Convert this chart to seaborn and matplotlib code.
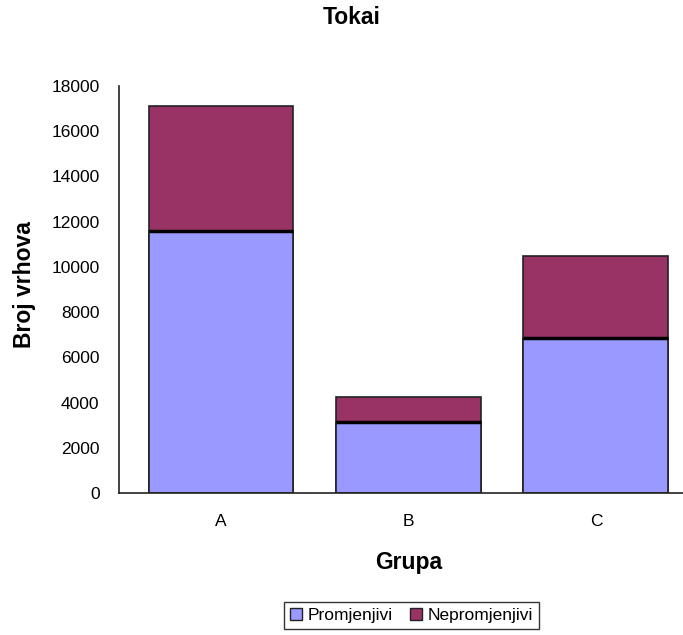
import matplotlib
matplotlib.use("Agg")
import matplotlib.pyplot as plt
import matplotlib.patches as mpatches
import seaborn as sns
import pandas as pd

sns.set_theme(style="white")
plt.rcParams["font.family"] = ["Liberation Sans", "DejaVu Sans"]
plt.rcParams["text.color"] = "black"
plt.rcParams["xtick.color"] = "black"
plt.rcParams["ytick.color"] = "black"

groups = ["A", "B", "C"]
promjenjivi = [11600, 3150, 6850]
nepromjenjivi = [5500, 1100, 3650]
series_names = ["Promjenjivi", "Nepromjenjivi"]
y_ticks = [0, 2000, 4000, 6000, 8000, 10000, 12000, 14000, 16000, 18000]

blue = "#9999FF"
maroon = "#993366"

totals = [p + n for p, n in zip(promjenjivi, nepromjenjivi)]
df = pd.DataFrame({"Grupa": groups, "Promjenjivi": promjenjivi, "Ukupno": totals})

fig = plt.figure(figsize=(6.83, 6.35), dpi=100)
ax = fig.add_axes([0.1742, 0.2236, 0.83, 0.641])

bar_w = 0.773
sns.barplot(data=df, x="Grupa", y="Ukupno", color=maroon, saturation=1,
            width=bar_w, edgecolor="#222222", linewidth=1.2, ax=ax)
sns.barplot(data=df, x="Grupa", y="Promjenjivi", color=blue, saturation=1,
            width=bar_w, edgecolor="#222222", linewidth=1.2, ax=ax)

# heavy separator line on top of the lower segment
for i, p in enumerate(promjenjivi):
    ax.hlines(p, i - bar_w / 2, i + bar_w / 2, color="black", linewidth=2.5, zorder=5)

ax.set_xlim(-0.544, 2.48)
ax.set_ylim(0, 18000)
ax.set_yticks(y_ticks)
ax.set_yticklabels([str(t) for t in y_ticks])
ax.set_xticks([-0.544, 0.5, 1.5], minor=True)
ax.tick_params(axis="x", which="major", length=0, pad=15, labelsize=12.5)
ax.tick_params(axis="x", which="minor", length=6, width=1.2, color="#222222", direction="out")
ax.tick_params(axis="y", length=6, width=1.2, color="#222222", direction="out",
               labelsize=12.5, pad=8)
ax.set_xlabel("")
ax.set_ylabel("")

for side in ["top", "right"]:
    ax.spines[side].set_visible(False)
for side in ["left", "bottom"]:
    ax.spines[side].set_color("#222222")
    ax.spines[side].set_linewidth(1.2)

fig.text(0.515, 0.9717, "Tokai", ha="center", va="center", fontsize=16.5, fontweight="bold")
fig.text(0.599, 0.1134, "Grupa", ha="center", va="center", fontsize=16.5, fontweight="bold")
fig.text(0.036, 0.552, "Broj vrhova", ha="center", va="center", rotation=90,
         fontsize=16.5, fontweight="bold")

handles = [mpatches.Patch(facecolor=c, edgecolor="#222222", linewidth=1.0, label=n)
           for c, n in zip([blue, maroon], series_names)]
leg = fig.legend(handles=handles, loc="center", bbox_to_anchor=(0.6025, 0.031), ncol=2,
                 frameon=True, fancybox=False, fontsize=12.5, handlelength=0.7,
                 handleheight=0.7, handletextpad=0.3, columnspacing=1.0,
                 borderpad=0.35)
leg.get_frame().set_edgecolor("black")
leg.get_frame().set_linewidth(1.0)

fig.savefig("out.png", dpi=100)
